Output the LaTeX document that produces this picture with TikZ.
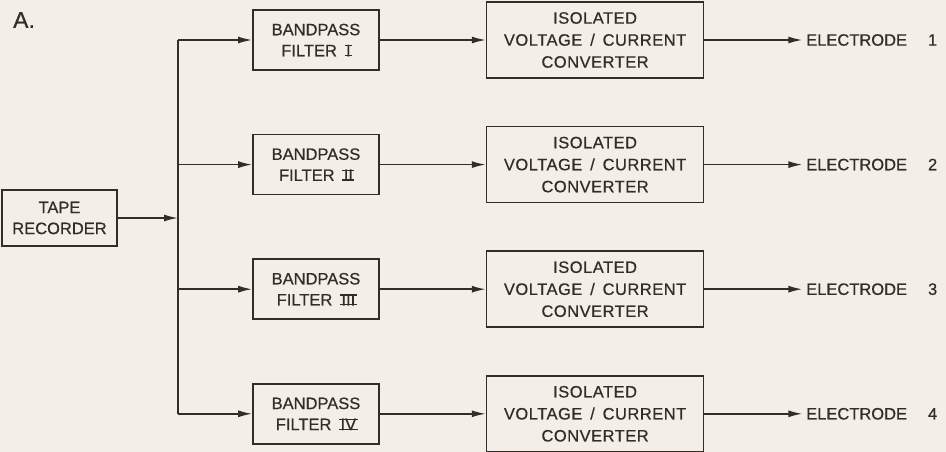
\documentclass[tikz,border=0pt]{standalone}
\usepackage{fontspec}
\setmainfont{Liberation Sans}[FakeBold=0.6]
\usepackage{xcolor}
\usetikzlibrary{arrows.meta,positioning}

\definecolor{paper}{HTML}{F3EFE7}
\definecolor{ink}{HTML}{332C2A}

% roman numeral with bars at cap height and baseline
\newcommand{\filterno}[1]{\setbox0\hbox{#1}\leavevmode
  \rlap{\kern-1.5pt\rule{\dimexpr\wd0+3pt}{1.4pt}}%
  \rlap{\kern-1.5pt\raisebox{\dimexpr\ht0-1.4pt}{\rule{\dimexpr\wd0+3pt}{1.4pt}}}\box0}

\begin{document}
\begin{tikzpicture}[
    x=1pt, y=-1pt,
    line width=1.6pt,
    every node/.style={font=\fontsize{16.5}{21}\selectfont, text=ink},
    source/.style={rectangle, draw=ink, minimum width=115pt, minimum height=56pt, align=center, inner sep=2pt},
    filter/.style={rectangle, draw=ink, minimum width=126pt, minimum height=60pt, align=center, inner sep=2pt},
    converter/.style={rectangle, draw=ink, minimum width=217pt, minimum height=76pt, align=center, inner sep=2pt,
        font=\fontsize{16.5}{22}\selectfont\addfontfeature{LetterSpace=3}},
    output/.style={inner sep=3pt, anchor=west},
    arrow/.style={-{Latex[length=14pt,width=7pt]}, draw=ink}
]
\fill[paper] (0,0) rectangle (946,452);
\useasboundingbox (0,0) rectangle (946,452);

% Label
\node[font=\fontsize{23}{26}\selectfont] (label) at (24,20) {A.};

% Source
\node[source] (tape) at (59.5,218) {TAPE\\RECORDER};
\coordinate (bus) at (178,218);

% Filters
\node[filter] (filter1) at (316,40) {BANDPASS\\FILTER \ \filterno{I}};
\node[filter, below=63pt of filter1] (filter2) {BANDPASS\\FILTER \ \filterno{II}};
\node[filter, below=63pt of filter2] (filter3) {BANDPASS\\FILTER \ \filterno{III}};
\node[filter, below=63pt of filter3] (filter4) {BANDPASS\\FILTER \ \filterno{IV}};

% Converters
\foreach \i in {1,...,4}
  \node[converter, right=106pt of filter\i] (conv\i) {ISOLATED\\VOLTAGE\,\ /\,\ CURRENT\\CONVERTER};

% Electrodes
\foreach \i in {1,...,4}
  \node[output, right=98pt of conv\i.east] (elec\i) {ELECTRODE\hspace{21pt}\i};

% Arrows
\draw[arrow] (tape.east) -- (bus);
\draw[ink] (filter1.west -| bus) -- (filter4.west -| bus);
\foreach \i in {1,...,4} {
  \draw[arrow] (filter\i.west -| bus) -- (filter\i.west);
  \draw[arrow] (filter\i.east) -- (conv\i.west);
  \draw[arrow] (conv\i.east) -- (elec\i.west);
}

\end{tikzpicture}
\end{document}
